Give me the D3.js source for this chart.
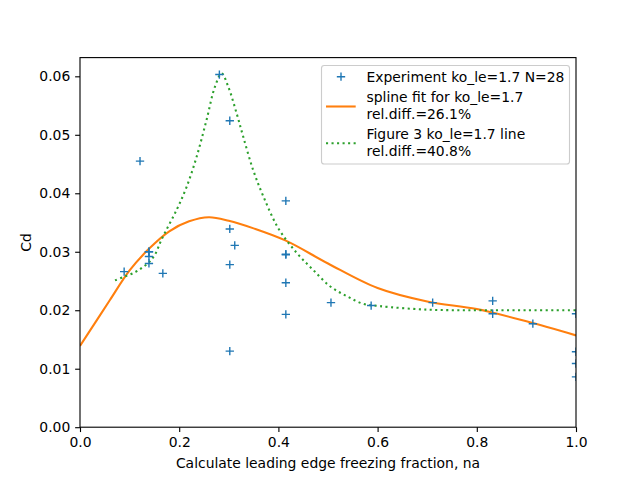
<!DOCTYPE html>
<html><head><meta charset="utf-8">
<script src="https://cdn.jsdelivr.net/npm/d3@7"></script>
<style>body{margin:0;background:#fff}text{font-family:"DejaVu Sans",sans-serif}</style>
</head><body><svg id="c" width="640" height="480"></svg>
<script>
const expX = [0.089,0.121,0.139,0.139,0.139,0.167,0.281,0.302,0.302,0.312,0.302,0.302,0.415,0.415,0.415,0.415,0.415,0.506,0.587,0.711,0.832,0.832,0.913,1.0,1.0,1.0,1.0,0.139];
const expY = [0.0266,0.0455,0.0300,0.0292,0.0280,0.0263,0.0603,0.0524,0.0339,0.0311,0.0278,0.0130,0.0387,0.0296,0.0295,0.0247,0.0193,0.0213,0.0208,0.0213,0.0216,0.0194,0.0177,0.0194,0.0129,0.0109,0.0086,0.0300];
const splineX = [0.0,0.03,0.06,0.10,0.139,0.18,0.22,0.26,0.30,0.35,0.415,0.50,0.60,0.70,0.80,0.90,1.0];
const splineY = [0.0139,0.0178,0.0217,0.0268,0.0305,0.0335,0.0352,0.0359,0.0353,0.0340,0.0319,0.0280,0.0238,0.0215,0.0202,0.0181,0.0157];
const figX = [0.0706,0.0907,0.111,0.124,0.138,0.151,0.165,0.195,0.215,0.235,0.255,0.272,0.2856,0.299,0.316,0.329,0.349,0.37,0.40,0.437,0.470,0.504,0.538,0.571,0.605,0.70,0.80,0.90,1.0];
const figY = [0.0251,0.0258,0.0265,0.0272,0.0281,0.0295,0.0322,0.0372,0.0411,0.0462,0.0525,0.0582,0.0605,0.0582,0.0536,0.0497,0.0440,0.0394,0.0340,0.0298,0.0269,0.0241,0.0224,0.0211,0.0207,0.0201,0.0200,0.0200,0.0200];
const xTicks = [0,0.2,0.4,0.6,0.8,1.0];
const yTicks = [0,0.01,0.02,0.03,0.04,0.05,0.06];
const legendLabels = [["Experiment ko_le=1.7 N=28"],["spline fit for ko_le=1.7","rel.diff.=26.1%"],["Figure 3 ko_le=1.7 line","rel.diff.=40.8%"]];

const svg = d3.select("#c");
const L=80,R=576,T=57.6,B=427.2;
const x = d3.scaleLinear().domain([0,1]).range([L,R]);
const y = d3.scaleLinear().domain([0,0.0632]).range([B,T]);
const fs = 13.9;

svg.append("defs").append("clipPath").attr("id","clip").append("rect")
  .attr("x",L).attr("y",T).attr("width",R-L).attr("height",B-T);
const plot = svg.append("g").attr("clip-path","url(#clip)");

const line = d3.line().curve(d3.curveCatmullRom.alpha(0.5));
plot.append("path").attr("d", line(splineX.map((v,i)=>[x(v),y(splineY[i])])))
  .attr("fill","none").attr("stroke","#ff7f0e").attr("stroke-width",2.08);
plot.append("path").attr("d", line(figX.map((v,i)=>[x(v),y(figY[i])])))
  .attr("fill","none").attr("stroke","#2ca02c").attr("stroke-width",2.08).attr("stroke-dasharray","2.08,3.44");

const m = 4.17;
function plus(g,cx,cy){
  g.append("path").attr("d",`M${cx-m},${cy}H${cx+m}M${cx},${cy-m}V${cy+m}`)
   .attr("stroke","#1f77b4").attr("stroke-width",1.39).attr("fill","none");
}
expX.forEach((v,i)=>plus(plot,x(v),y(expY[i])));

// axes
const xa = svg.append("g").attr("transform",`translate(0,${B})`)
  .call(d3.axisBottom(x).tickValues(xTicks).tickFormat(d3.format(".1f")).tickSize(4.86).tickPadding(4.9));
const ya = svg.append("g").attr("transform",`translate(${L},0)`)
  .call(d3.axisLeft(y).tickValues(yTicks).tickFormat(d3.format(".2f")).tickSize(4.86).tickPadding(4.9));
[xa,ya].forEach(a=>{
  a.select(".domain").remove();
  a.selectAll("line").attr("stroke","#000").attr("stroke-width",1.11);
  a.selectAll("text").attr("font-size",fs).attr("font-family","DejaVu Sans").attr("fill","#000");
});
svg.append("rect").attr("x",L).attr("y",T).attr("width",R-L).attr("height",B-T)
  .attr("fill","none").attr("stroke","#000").attr("stroke-width",1.11);

svg.append("text").attr("x",(L+R)/2).attr("y",468).attr("text-anchor","middle")
  .attr("font-size",fs).text("Calculate leading edge freezing fraction, na");
svg.append("text").attr("transform",`translate(31,${(T+B)/2}) rotate(-90)`).attr("text-anchor","middle")
  .attr("font-size",fs).text("Cd");

// legend
const lg = svg.append("g");
lg.append("rect").attr("x",321.5).attr("y",65.5).attr("width",248).attr("height",98.5).attr("rx",2.8)
  .attr("fill","#fff").attr("fill-opacity",0.8).attr("stroke","#cccccc").attr("stroke-width",1.11);
plus(lg,341,76.7);
lg.append("line").attr("x1",326).attr("x2",355.7).attr("y1",106.5).attr("y2",106.5)
  .attr("stroke","#ff7f0e").attr("stroke-width",2.08);
lg.append("line").attr("x1",326).attr("x2",355.7).attr("y1",143.3).attr("y2",143.3)
  .attr("stroke","#2ca02c").attr("stroke-width",2.08).attr("stroke-dasharray","2.08,3.44");
const rows = [[81.7],[102,119],[139,156]];
legendLabels.forEach((lab,i)=>lab.forEach((t,j)=>
  lg.append("text").attr("x",366.5).attr("y",rows[i][j]).attr("font-size",fs).text(t)));
</script></body></html>
